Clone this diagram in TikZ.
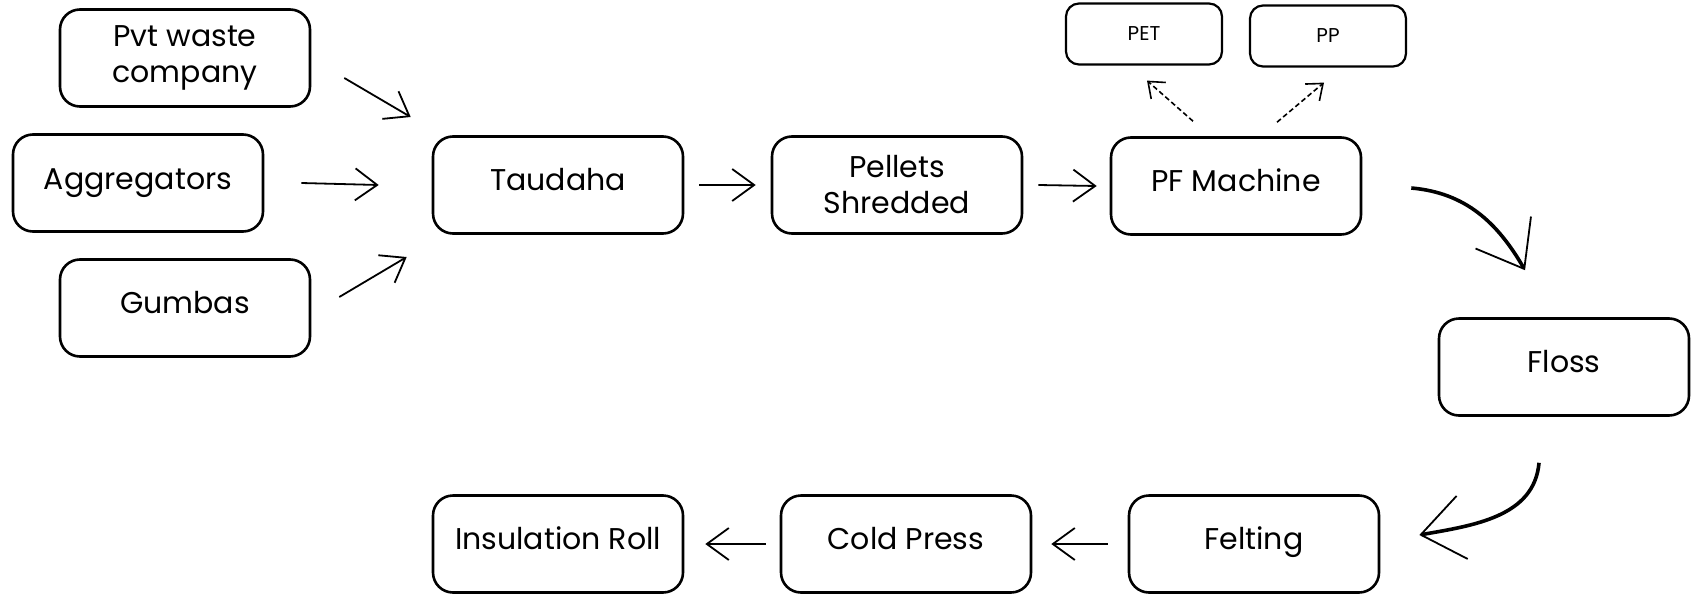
\documentclass[tikz,border=0pt]{standalone}
\usepackage{fontspec}
\setmainfont{Poppins}
\usetikzlibrary{arrows.meta,calc}
\tikzset{
  box/.style={draw=black,line width=2.6pt,rounded corners=20pt,fill=white,
    minimum width=250pt,minimum height=97pt,align=center,inner sep=2pt,
    font=\fontsize{30}{36}\selectfont},
  one/.style={box,text height=22pt,text depth=11pt},
  tag/.style={box,rounded corners=13pt,line width=2.2pt,minimum width=156pt,
    minimum height=61pt,font=\fontsize{20}{22}\selectfont},
  flow/.style={line width=1.8pt,-{Straight Barb[length=22pt,width=32pt,line width=1.8pt]}},
  split/.style={line width=1.6pt,dash pattern=on 5pt off 3pt,
    -{Straight Barb[length=14pt,width=22pt,line width=1.6pt]}},
  swing/.style={line width=3.6pt,-{Straight Barb[length=42pt,width=64pt,line width=1.8pt]}},
}

\begin{document}
\begin{tikzpicture}[x=1pt,y=1pt]
  \fill[white](0,0) rectangle (1693,-594);
  \useasboundingbox (0,0) rectangle (1693,-594);
  % sources
  \node[box](pvt) at (185,-58){Pvt waste\\company};
  \node[box](agg) at (138,-183){Aggregators};
  \node[one](gum) at (185,-308){Gumbas};
  % top line
  \node[one](taud) at (558,-185){Taudaha};
  \node[box](pell) at (897,-185){Pellets\\Shredded};
  \node[one](pfm) at (1236,-186){PF Machine};
  \node[tag](pet) at (1144,-34){PET};
  \node[tag](pp) at (1328,-36){PP};
  \node[one](floss) at (1564,-367){Floss};
  % bottom line
  \node[one](felt) at (1254,-544){Felting};
  \node[one](cold) at (906,-544){Cold Press};
  \node[one](ins) at (558,-544){Insulation Roll};
  % arrows
  \draw[flow]([shift={(33,-20)}]pvt.east)--([shift={(-21,68)}]taud.west);
  \draw[flow]([xshift=37pt]agg.east)--([xshift=-53pt]taud.west);
  \draw[flow]([shift={(28,11)}]gum.east)--([shift={(-25,-72)}]taud.west);
  \draw[flow]([xshift=15pt]taud.east)--([xshift=-15pt]pell.west);
  \draw[flow]([xshift=15pt]pell.east)--([xshift=-13pt]pfm.west);
  \draw[split]([shift={(-43,15)}]pfm.north)--([shift={(3,-15)}]pet.south);
  \draw[split]([shift={(41,14)}]pfm.north)--([shift={(-4,-15)}]pp.south);
  \draw[swing]([shift={(49,-2)}]pfm.east) to[out=-5,in=120] ([shift={(-39,47)}]floss.north);
  \draw[swing]([shift={(-25,-46)}]floss.south) to[out=-95,in=10] ([shift={(39,9)}]felt.east);
  \draw[flow]([xshift=-20pt]felt.west)--([xshift=19pt]cold.east);
  \draw[flow]([xshift=-14pt]cold.west)--([xshift=21pt]ins.east);
\end{tikzpicture}
\end{document}
